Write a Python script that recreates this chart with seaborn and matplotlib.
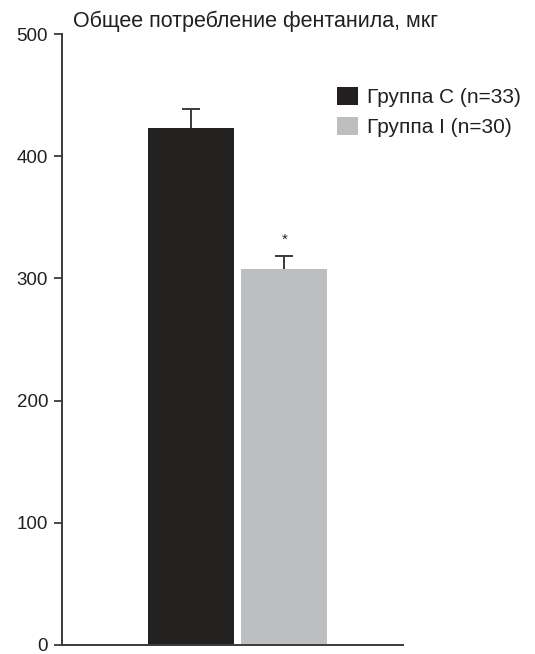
import matplotlib
matplotlib.use("Agg")
import pandas as pd
import matplotlib.pyplot as plt
import seaborn as sns
from matplotlib.patches import Patch

groups = ["Группа C (n=33)", "Группа I (n=30)"]
fentanyl = [423, 308]
sem = [16, 10]
colors = ["#231f20", "#bcbec0"]
yticks = [0, 100, 200, 300, 400, 500]

sns.set_style("white")
plt.rcParams["font.family"] = ["Liberation Sans", "DejaVu Sans"]

df = pd.DataFrame({"group": groups, "value": fentanyl})

fig = plt.figure(figsize=(5.35, 6.54), dpi=100)
ax = fig.add_axes([0.1159, 0.0138, 0.6374, 0.9342])

sns.barplot(data=df, x="group", y="value", hue="group", palette=colors,
            dodge=False, width=0.92, legend=False, ax=ax, linewidth=0)

# only the upper half of the error bar
for i, (v, e) in enumerate(zip(fentanyl, sem)):
    _, caps, _ = ax.errorbar(i, v, yerr=[[0], [e]], color="#3a3a3a", capsize=6.8,
                             elinewidth=1.4, capthick=1.4, zorder=3)
    caps[0].set_visible(False)

# significance mark over group I
ax.text(1, fentanyl[1] + sem[1] + 10, "*", ha="center", va="baseline", fontsize=11)

ax.set_xlim(-1.38, 2.27)
ax.set_ylim(0, 500)
ax.set_yticks(yticks)
ax.set_xticks([])
ax.set_xlabel("")
ax.set_ylabel("")
ax.tick_params(axis="y", left=True, length=6, width=1.3, color="#3a3a3a",
               labelsize=13.5, pad=4, labelcolor="#231f20")
for s in ["top", "right"]:
    ax.spines[s].set_visible(False)
for s in ["left", "bottom"]:
    ax.spines[s].set_color("#3a3a3a")
    ax.spines[s].set_linewidth(1.4)

fig.text(0.136, 0.968, "Общее потребление фентанила, мкг", fontsize=15.5,
         ha="left", va="center", color="#231f20")

handles = [Patch(facecolor=c, edgecolor="none") for c in colors]
fig.legend(handles, groups, loc="upper left", bbox_to_anchor=(0.614, 0.88),
           frameon=False, fontsize=15, handlelength=1.0, handleheight=1.0,
           handletextpad=0.45, labelspacing=0.45, borderaxespad=0,
           labelcolor="#231f20")

plt.savefig("out.png", dpi=100)
